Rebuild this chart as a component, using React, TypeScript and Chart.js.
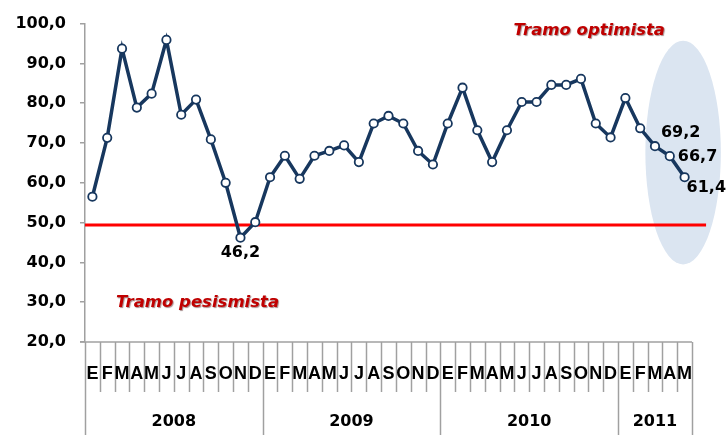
import React, { useEffect, useRef } from "react";
import { Chart, registerables } from "chart.js";

Chart.register(...registerables);

const months: string[] = ["E", "F", "M", "A", "M", "J", "J", "A", "S", "O", "N", "D"];
const years: string[] = ["2008", "2009", "2010", "2011"];
const monthsPerYear: number[] = [12, 12, 12, 5];

const values2008: number[] = [56.5, 71.3, 93.7, 78.9, 82.4, 95.9, 77.1, 80.9, 70.9, 60.0, 46.2, 50.1];
const values2009: number[] = [61.4, 66.8, 61.0, 66.8, 68.0, 69.4, 65.2, 74.9, 76.8, 74.9, 68.0, 64.6];
const values2010: number[] = [74.9, 83.9, 73.2, 65.2, 73.2, 80.3, 80.3, 84.6, 84.6, 86.1, 74.9, 71.4];
const values2011: number[] = [81.3, 73.7, 69.2, 66.7, 61.4];

const yTicks: number[] = [20, 30, 40, 50, 60, 70, 80, 90, 100];
const threshold = 49.4;

// labelled points: index into the series and label placement
const labelled: { idx: number; pos: string }[] = [
  { idx: 10, pos: "below" },
  { idx: 38, pos: "aboveRight" },
  { idx: 39, pos: "right" },
  { idx: 40, pos: "belowRight" },
];

const optimistaText = "Tramo optimista";
const pesimistaText = "Tramo pesismista";

const values: number[] = [...values2008, ...values2009, ...values2010, ...values2011];
const labels: string[] = [];
monthsPerYear.forEach((n) => {
  for (let i = 0; i < n; i++) labels.push(months[i]);
});

const fmt = (v: number) => v.toFixed(1).replace(".", ",");

const LINE = "#17375e";
const AXIS = "#a0a0a0";
const DARKRED = "#c00000";

const overlayPlugin = {
  id: "overlay",
  beforeDatasetsDraw(chart: any) {
    const { ctx } = chart;
    const xs = chart.scales.x;
    const ys = chart.scales.y;
    // highlight ellipse around latest months
    const cx = xs.getPixelForValue(39.9);
    const rx = xs.getPixelForValue(42.45) - cx;
    const cy = ys.getPixelForValue(67.6);
    const ry = ys.getPixelForValue(39.5) - cy;
    ctx.save();
    ctx.fillStyle = "rgb(219,229,241)";
    ctx.beginPath();
    ctx.ellipse(cx, cy, rx, ry, 0, 0, Math.PI * 2);
    ctx.fill();
    ctx.restore();
    // threshold red line
    const yl = ys.getPixelForValue(threshold);
    ctx.save();
    ctx.strokeStyle = "#ff0000";
    ctx.lineWidth = 3;
    ctx.beginPath();
    ctx.moveTo(chart.chartArea.left, yl);
    ctx.lineTo(xs.getPixelForValue(41.45), yl);
    ctx.stroke();
    ctx.restore();
  },
  afterDraw(chart: any) {
    const { ctx, chartArea } = chart;
    const xs = chart.scales.x;
    const ys = chart.scales.y;
    const n = labels.length;
    const w = (chartArea.right - chartArea.left) / n;
    const bottom = chartArea.bottom;
    const canvasH = chart.height;

    ctx.save();
    // x axis line
    ctx.strokeStyle = AXIS;
    ctx.lineWidth = 1.5;
    ctx.beginPath();
    ctx.moveTo(chartArea.left - 5, bottom);
    ctx.lineTo(chartArea.right, bottom);
    ctx.stroke();
    // boundaries
    const yearBounds = new Set<number>();
    let acc = 0;
    yearBounds.add(0);
    monthsPerYear.forEach((m) => {
      acc += m;
      yearBounds.add(acc);
    });
    for (let i = 0; i <= n; i++) {
      const x = Math.round(chartArea.left + i * w) + 0.5;
      ctx.beginPath();
      ctx.moveTo(x, bottom);
      ctx.lineTo(x, yearBounds.has(i) ? canvasH : bottom + 50);
      ctx.stroke();
    }
    // month letters
    ctx.fillStyle = "#000";
    ctx.textAlign = "center";
    ctx.textBaseline = "middle";
    ctx.font = "bold 18px 'Liberation Sans'";
    for (let i = 0; i < n; i++) {
      ctx.fillText(labels[i], xs.getPixelForValue(i), bottom + 32);
    }
    // years
    ctx.font = "bold 16px 'DejaVu Sans'";
    let start = 0;
    monthsPerYear.forEach((m, k) => {
      const x0 = chartArea.left + start * w;
      const x1 = chartArea.left + (start + m) * w;
      ctx.fillText(years[k], (x0 + x1) / 2, bottom + 80);
      start += m;
    });

    // value labels
    const meta = chart.getDatasetMeta(0);
    ctx.font = "bold 16px 'DejaVu Sans'";
    labelled.forEach(({ idx, pos }) => {
      const el = meta.data[idx];
      const t = fmt(values[idx]);
      if (pos === "below") {
        ctx.textAlign = "center";
        ctx.fillText(t, el.x, el.y + 15);
      } else if (pos === "aboveRight") {
        ctx.textAlign = "left";
        ctx.fillText(t, el.x + 6, el.y - 13);
      } else if (pos === "right") {
        ctx.textAlign = "left";
        ctx.fillText(t, el.x + 8, el.y + 1);
      } else {
        ctx.textAlign = "left";
        ctx.fillText(t, el.x + 2, el.y + 11);
      }
    });

    // zone annotations
    ctx.font = "italic bold 16.5px 'DejaVu Sans'";
    ctx.textAlign = "left";
    ctx.textBaseline = "alphabetic";
    ctx.shadowColor = "rgba(60,0,0,0.45)";
    ctx.shadowOffsetX = 1;
    ctx.shadowOffsetY = 1;
    ctx.shadowBlur = 1;
    ctx.fillStyle = DARKRED;
    ctx.fillText(optimistaText, xs.getPixelForValue(28.45), ys.getPixelForValue(97.2));
    ctx.fillText(pesimistaText, xs.getPixelForValue(1.6), ys.getPixelForValue(28.7));
    ctx.restore();
  },
};

export default function App() {
  const ref = useRef<HTMLCanvasElement | null>(null);
  useEffect(() => {
    if (!ref.current) return;
    const chart = new Chart(ref.current, {
      type: "line",
      data: {
        labels,
        datasets: [
          {
            data: values,
            borderColor: LINE,
            borderWidth: 3.5,
            pointRadius: 4.2,
            pointBackgroundColor: "#ffffff",
            pointBorderColor: LINE,
            pointBorderWidth: 1.8,
            tension: 0,
          },
        ],
      },
      options: {
        responsive: false,
        animation: false,
        layout: { padding: { top: 19, right: 35, left: 0, bottom: 0 } },
        plugins: { legend: { display: false }, tooltip: { enabled: false } },
        scales: {
          x: {
            type: "category",
            offset: true,
            grid: { display: false },
            border: { display: false },
            ticks: { display: false },
            afterFit: (s: any) => {
              s.height = 93;
            },
          },
          y: {
            min: 20,
            max: 100,
            afterBuildTicks: (s: any) => {
              s.ticks = yTicks.map((v) => ({ value: v }));
            },
            afterFit: (s: any) => {
              s.width = 85;
            },
            grid: {
              drawOnChartArea: false,
              drawTicks: true,
              tickLength: 5,
              color: AXIS,
              lineWidth: 1.5,
            },
            border: { display: true, color: AXIS, width: 1.5 },
            ticks: {
              padding: 14,
              color: "#000",
              font: { family: "'DejaVu Sans'", weight: "bold", size: 16 },
              callback: (v: any) => fmt(Number(v)),
            },
          },
        },
      },
      plugins: [overlayPlugin],
    });
    return () => chart.destroy();
  }, []);
  return (
    <div style={{ position: "fixed", left: 0, top: 0, width: 727, height: 435, background: "#fff" }}>
      <canvas ref={ref} width={727} height={435} />
    </div>
  );
}
